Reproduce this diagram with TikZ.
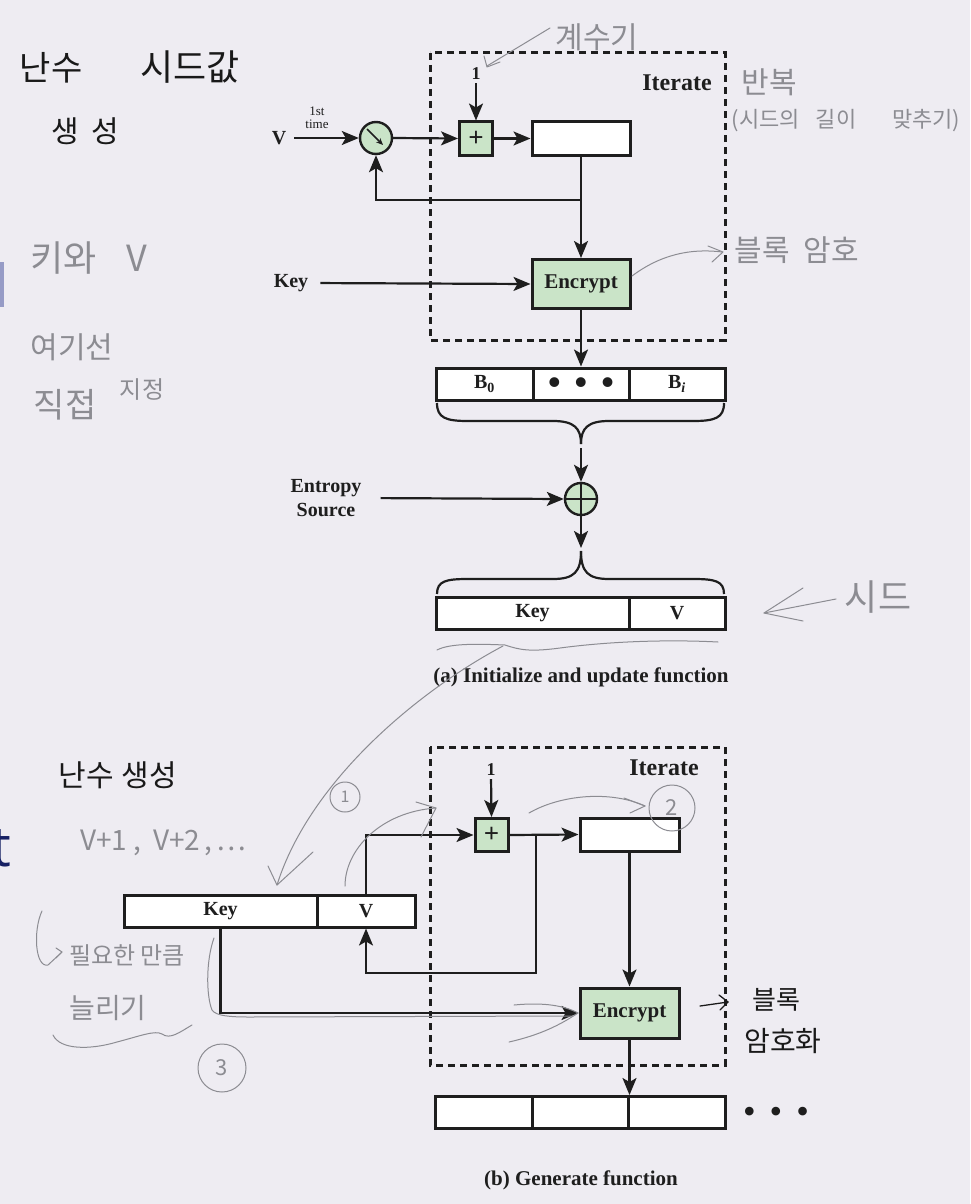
\documentclass[tikz,border=0pt]{standalone}
\usepackage{fontspec}
\setmainfont{Liberation Serif}
\newfontfamily\hand{Noto Sans CJK KR}
\newfontfamily\slidefont{Open Sans}
\usetikzlibrary{arrows.meta,calc}
\definecolor{bg}{RGB}{238,236,242}
\definecolor{gfill}{RGB}{202,228,200}
\definecolor{ink}{RGB}{30,30,30}
\definecolor{pencil}{RGB}{140,140,146}
\definecolor{pen}{RGB}{25,25,25}
\definecolor{slideblue}{RGB}{22,32,100}
\definecolor{slidebar}{RGB}{150,155,198}
\begin{document}
\begin{tikzpicture}[x=1pt,y=-1pt,
  arr/.style={draw=ink,line width=2.2pt,-{Stealth[length=17pt,width=14pt,inset=4pt]}},
  ln/.style={draw=ink,line width=2.2pt},
  cell/.style={draw=ink,line width=3pt,fill=white,minimum height=32pt,inner sep=0pt,text=ink,font=\bfseries\fontsize{20}{20}\selectfont},
  gbox/.style={draw=ink,line width=3pt,fill=gfill,inner sep=0pt,text=ink,font=\bfseries\fontsize{21}{21}\selectfont},
  lbl/.style={font=\bfseries\fontsize{20}{20}\selectfont,text=ink,inner sep=0pt},
  big/.style={font=\bfseries\fontsize{24}{24}\selectfont,text=ink,inner sep=0pt},
  dbox/.style={draw=ink,line width=3pt,dash pattern=on 7pt off 5pt},
  ring/.style={circle,draw=ink,line width=2.4pt,fill=gfill,minimum size=32pt,inner sep=0pt},
  pls/.style={font=\bfseries\fontsize{27}{27}\selectfont},
  hw/.style={text=pencil,inner sep=0pt,font=\hand\fontsize{#1}{#1}\selectfont},
  hwk/.style={text=pen,inner sep=0pt,font=\hand\fontsize{#1}{#1}\selectfont},
  pstroke/.style={draw=pencil,line width=1pt,line cap=round,line join=round},
  kstroke/.style={draw=pen,line width=1.3pt,line cap=round,line join=round},
  cnum/.style={circle,draw=pencil,line width=1pt,inner sep=0pt,text=pencil,font=\hand\fontsize{#1}{#1}\selectfont},
]
\fill[bg] (0,0) rectangle (970,1204);
\useasboundingbox (0,0) rectangle (970,1204);

% ================= (a) Initialize and update function =================
\draw[dbox] (430,53) rectangle (725,340);
\node[big] (ita) at (677,83) {Iterate};
\node[lbl] (Va) at (279,138) {V};
\node[font=\fontsize{13}{13}\selectfont,align=center,inner sep=0pt,text=ink] (ta) at (317,118) {1st\\time};
\node[ring] (sw) at (376,138) {};
\draw[ink,line width=1.6pt,-{Stealth[length=7pt,width=6pt]}] ($(sw)+(-9,-9)$) -- ($(sw)+(7,7)$);
\node[gbox,pls,minimum size=33pt] (pa) at (476,138.5) {+};
\node[cell,minimum width=98pt,minimum height=33pt] (ra) at (581,138.5) {};
\node[gbox,minimum width=98pt,minimum height=49pt] (ea) at (581,284) {Encrypt};
\node[lbl] (ka) at (291,283) {Key};
\node[lbl,font=\bfseries\fontsize{18}{18}\selectfont] (oa) at (476,74) {1};
\coordinate (fa) at (581,200);

\draw[arr,shorten <=8pt] (Va.east) -- (sw.west);
\draw[arr] (sw.east) -- (pa.west);
\draw[arr] (pa.east) -- (ra.west);
\draw[arr,shorten <=3pt] (oa.south) -- (pa.north);
\draw[arr] (ra.south) -- (ea.north);
\draw[arr] (fa) -| (sw.south);
\draw[arr,shorten <=12pt] (ka.east) -- (ea.west);

\node[cell,minimum width=97pt] (b0) at (484.5,384) {B\textsubscript{0}};
\node[cell,minimum width=96pt] (bd) at (581,384) {\fontsize{36}{36}\selectfont\raisebox{-10pt}[0pt][0pt]{\textbullet\hspace{14pt}\textbullet\hspace{14pt}\textbullet}};
\node[cell,minimum width=96pt] (bi) at (677,384) {B\textsubscript{\itshape i}};
\draw[arr] (ea.south) -- (bd.north);

\coordinate (bt1) at (581,444);
\draw[ln] (437,403) .. controls (437,418) and (446,421) .. (468,421) -- (553,421) .. controls (574,421) and (581,428) .. (bt1);
\draw[ln] (724,403) .. controls (724,418) and (715,421) .. (693,421) -- (609,421) .. controls (588,421) and (581,428) .. (bt1);

\node[ring] (xa) at (581,499) {};
\draw[ink,line width=1.8pt] (xa.north) -- (xa.south) (xa.west) -- (xa.east);
\draw[arr,shorten <=4pt] (bt1) -- (xa.north);
\node[lbl,align=center,font=\bfseries\fontsize{20}{24}\selectfont] (en) at (326,498) {Entropy\\Source};
\draw[arr,shorten <=19pt] (en.east) -- (xa.west);

\coordinate (bt2) at (581,551);
\draw[arr,shorten >=3pt] (xa.south) -- (bt2);
\draw[ln] (437,594) .. controls (437,581) and (446,579) .. (468,579) -- (553,579) .. controls (574,579) and (581,572) .. (bt2);
\draw[ln] (724,594) .. controls (724,581) and (715,579) .. (693,579) -- (609,579) .. controls (588,579) and (581,572) .. (bt2);

\node[cell,minimum width=193pt] (kk) at (532.5,613) {Key};
\node[cell,minimum width=96pt] (vv) at (677,613) {V};
\node[lbl,font=\bfseries\fontsize{21}{21}\selectfont] (capa) at (581,677) {(a) Initialize and update function};

% ================= (b) Generate function =================
\draw[dbox] (430,747) rectangle (725,1065);
\node[big] (itb) at (664,768) {Iterate};
\node[lbl,font=\bfseries\fontsize{18}{18}\selectfont] (ob) at (491,770) {1};
\node[gbox,pls,minimum size=33pt] (pb) at (491.5,835) {+};
\node[cell,minimum width=99pt,minimum height=33pt] (rb) at (629.5,834.5) {};
\node[gbox,minimum width=99pt,minimum height=50pt] (eb) at (629.5,1013) {Encrypt};
\node[cell,minimum width=193pt] (kb) at (220.5,911) {Key};
\node[cell,minimum width=98pt] (vb) at (366,911) {V};
\node[cell,minimum width=97pt] (o1) at (483.5,1112.5) {};
\node[cell,minimum width=96pt] (o2) at (580,1112.5) {};
\node[cell,minimum width=97pt] (o3) at (676.5,1112.5) {};
\node[lbl,font=\fontsize{36}{36}\selectfont] (dots) at (776,1113) {\raisebox{-10pt}[0pt][0pt]{\textbullet\hspace{14pt}\textbullet\hspace{14pt}\textbullet}};
\coordinate (brb) at (536,835);
\coordinate (fbb) at (536,973);

\draw[arr,shorten <=3pt] (ob.south) -- (pb.north);
\draw[arr] (vb.north) |- (pb.west);
\draw[arr] (pb.east) -- (rb.west);
\draw[arr] (brb) -- (fbb) -| (vb.south);
\draw[arr] (rb.south) -- (eb.north);
\draw[arr] (kb.south) |- (eb.west);
\draw[arr] (eb.south) -- (eb.south |- o3.north);
\node[lbl,font=\bfseries\fontsize{21}{21}\selectfont] (capb) at (581,1180) {(b) Generate function};

% ================= handwritten notes =================
\fill[slidebar] (0,262) rectangle (4,307);
\node[text=slideblue,font=\slidefont\fontsize{56}{56}\selectfont,inner sep=0pt,anchor=base east] (h14) at (11,866) {t};

\node[hwk=34] (h1) at (51,68) {난수};
\node[hwk=36] (h2) at (190,67) {시드값};
\node[hwk=30] (h3) at (85,131) {생\hspace{12pt}성};
\node[hw=36] (h4) at (89,258) {키와\hspace{30pt}V};
\node[hw=30] (h5) at (72,347) {여기선};
\node[hw=34] (h6) at (65,405) {직접};
\node[hw=24] (h7) at (142,390) {지정};

\node[hw=30] (h8) at (597,37) {계수기};
\draw[pstroke] (550,28) -- (487,66);
\draw[pstroke] (484,56) -- (487,67) -- (500,62);
\node[hw=30] (h9) at (769,82) {반복};
\node[hw=22] (h10) at (846,121) {(시드의\hspace{16pt}길이\hspace{36pt}맞추기)};
\node[hw=30] (h11) at (797,250) {블록\hspace{14pt}암호};
\draw[pstroke] (632,276) .. controls (660,255) and (690,248) .. (722,252);
\draw[pstroke] (708,246) -- (723,252) -- (712,262);

\node[hw=36] (h12) at (878,597) {시드};
\draw[pstroke] (836,599) -- (764,613);
\draw[pstroke] (803,588) -- (764,613) -- (803,621);

% underline under Key|V (a)
\draw[pstroke] (437,650) .. controls (450,643) and (480,644) .. (505,645) .. controls (520,650) and (530,652) .. (560,648) .. controls (620,640) and (680,640) .. (718,642);
% curve 1
\draw[pstroke] (503,646) .. controls (420,690) and (310,780) .. (277,885);
\draw[pstroke] (268,866) -- (277,885) -- (313,852);
\node[cnum=16,minimum size=30pt] (c1) at (345,797) {1};
% curve 2
\draw[pstroke] (345,886) .. controls (345,850) and (380,812) .. (436,808);
\draw[pstroke] (416,802) -- (436,808) -- (421,837);
\draw[pstroke] (529,813) .. controls (560,795) and (610,790) .. (645,806);
\draw[pstroke] (624,798) -- (645,806) -- (630,813);
\node[cnum=22,minimum size=46pt] (c2) at (672,808) {2};
% curve 3
\draw[pstroke] (214,938) .. controls (206,960) and (206,995) .. (212,1010) .. controls (216,1016) and (230,1017) .. (250,1017) -- (572,1016);
\draw[pstroke] (514,1005) .. controls (545,1002) and (565,1006) .. (578,1013);
\draw[pstroke] (509,1042) .. controls (540,1035) and (560,1025) .. (578,1013);
\node[cnum=22,minimum size=48pt] (c3) at (222,1068) {3};

\node[hwk=30] (h13) at (118,775) {난수\hspace{8pt}생성};
\node[hw=28] (h15) at (163,843) {V+1\hspace{6pt},\hspace{12pt}V+2\hspace{4pt},\hspace{4pt}…};
\node[hw=24] (h16) at (127,955) {필요한\hspace{4pt}만큼};
\draw[pstroke] (42,911) .. controls (33,930) and (35,968) .. (48,965) -- (62,952);
\draw[pstroke] (56,948) -- (62,952) -- (56,958);
\node[hw=28] (h17) at (108,1008) {늘리기};
\draw[pstroke] (53,1035) .. controls (60,1050) and (90,1050) .. (117,1042) .. controls (140,1036) and (155,1030) .. (162,1034) .. controls (170,1040) and (180,1032) .. (192,1025);

\node[hwk=26] (h18) at (776,1000) {블록};
\node[hwk=28] (h19) at (783,1041) {암호화};
\draw[kstroke] (700,1006) -- (728,1002);
\draw[kstroke] (719,995) -- (728,1002) -- (720,1010);
\end{tikzpicture}
\end{document}
